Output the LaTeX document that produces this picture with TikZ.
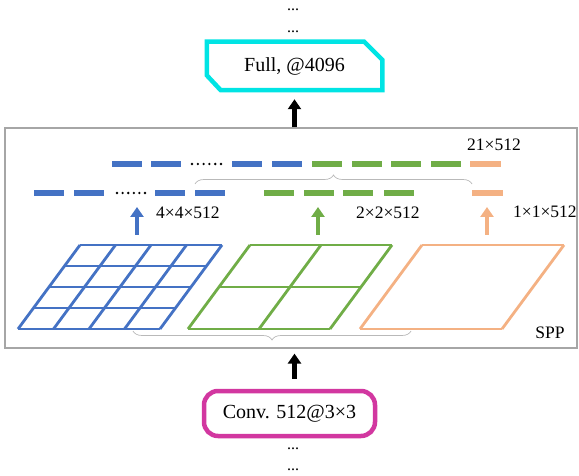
\documentclass[tikz,border=0pt]{standalone}
\usepackage{fontspec}
\setmainfont{Liberation Serif}
\usetikzlibrary{arrows.meta, positioning, decorations.pathreplacing}
\definecolor{sppblue}{HTML}{4472C4}
\definecolor{sppgreen}{HTML}{70AD47}
\definecolor{spporange}{HTML}{F4B183}
\definecolor{fullcyan}{RGB}{0,228,228}
\definecolor{convpink}{RGB}{210,55,160}

\begin{document}
\begin{tikzpicture}[
        x=1pt, y=-1pt,
        box/.style={line width=4.5pt, minimum width=171pt, inner sep=0pt, font=\fontsize{20}{24}\selectfont},
        bar/.style={line width=5.5pt},
        cell/.style={line width=2.8pt, line join=round},
        up/.style={line width=4.5pt, -{Triangle[length=10pt, width=13pt]}},
        lab/.style={font=\fontsize{17.5}{20}\selectfont, inner sep=0pt},
        more/.style={font=\fontsize{16}{18}\selectfont, inner sep=0pt, text height=2pt, text depth=0pt, anchor=base},
        brc/.style={draw=gray!55, line width=0.7pt, decorate, decoration={brace, amplitude=9pt}}
    ]
        \useasboundingbox (0,0) rectangle (579,476);

        % 上下省略号
        \node[more] (dt1) at (293,11) {...};
        \node[more] (dt2) at (293,33) {...};
        \node[more] (db1) at (293,449) {...};
        \node[more] (db2) at (293,470) {...};

        % 全连接层与卷积层
        \node[box, minimum height=44pt] (full) at (294.5,66) {Full, @4096};
        \draw[fullcyan, line width=4.5pt]
            (full.north west) -- ([xshift=-18pt]full.north east)
            -- ([yshift=-18pt]full.north east) -- (full.south east)
            -- ([xshift=14pt]full.south west) -- ([yshift=15pt]full.south west) -- cycle;
        \node[box, draw=convpink, rounded corners=14pt, minimum height=45pt] (conv) at (289.5,413.5) {Conv. 512@3×3};

        % SPP 框
        \node[draw=gray!70, line width=1.2pt, minimum width=572pt, minimum height=220pt] (spp) at (291,238) {};
        \node[lab] (spplab) at (550,333) {SPP};

        \draw[up, shorten >=9pt] (spp.north -| full) -- (full.south);
        \draw[up, shorten <=10pt, shorten >=5pt] (conv.north -| full) -- (spp.south -| full);

        % 三种划分
        \foreach \x/\n/\c in {18/4/sppblue, 188/2/sppgreen, 360/1/spporange} {
            \foreach \i in {0,...,\n} {
                \draw[cell, \c] (\x+62*\i/\n, 329-84*\i/\n) -- ++(142,0);
                \draw[cell, \c] (\x+142*\i/\n, 329) -- ++(62,-84);
            }
        }
        \coordinate (g4) at (137,235);
        \coordinate (g2) at (318,235);
        \coordinate (g1) at (487,235);
        \coordinate (r4) at (137,207);
        \coordinate (r2) at (318,207);
        \coordinate (r1) at (487,207);
        \draw[up, line width=4pt, sppblue] (g4) -- (r4);
        \draw[up, line width=4pt, sppgreen] (g2) -- (r2);
        \draw[up, line width=4pt, spporange] (g1) -- (r1);

        \node[lab, anchor=west] (l4) at (156,213) {4×4×512};
        \node[lab, anchor=west] (l2) at (356,213) {2×2×512};
        \node[lab, anchor=west] (l1) at (513,212) {1×1×512};
        \node[lab, anchor=west] (l21) at (467,145) {21×512};

        % 池化后的向量
        \foreach \a in {34,74,155,195} \draw[bar, sppblue] (\a,193) -- ++(30,0);
        \foreach \a in {264,304,343,384} \draw[bar, sppgreen] (\a,193) -- ++(30,0);
        \draw[bar, spporange] (472,193) -- ++(31,0);
        \foreach \k in {0,...,5} \fill (117+5.6*\k,193) circle (1.3pt);

        \foreach \a in {112,151,232,272} \draw[bar, sppblue] (\a,164) -- ++(30,0);
        \foreach \a in {312,352,391,431} \draw[bar, sppgreen] (\a,164) -- ++(30,0);
        \draw[bar, spporange] (470,164) -- ++(31,0);
        \foreach \k in {0,...,5} \fill (192+5.8*\k,164) circle (1.3pt);

        % 大括号
        \draw[brc] (195,184) -- (472,184);
        \draw[brc] (411,331) -- (133,331);
    \end{tikzpicture}
\end{document}
